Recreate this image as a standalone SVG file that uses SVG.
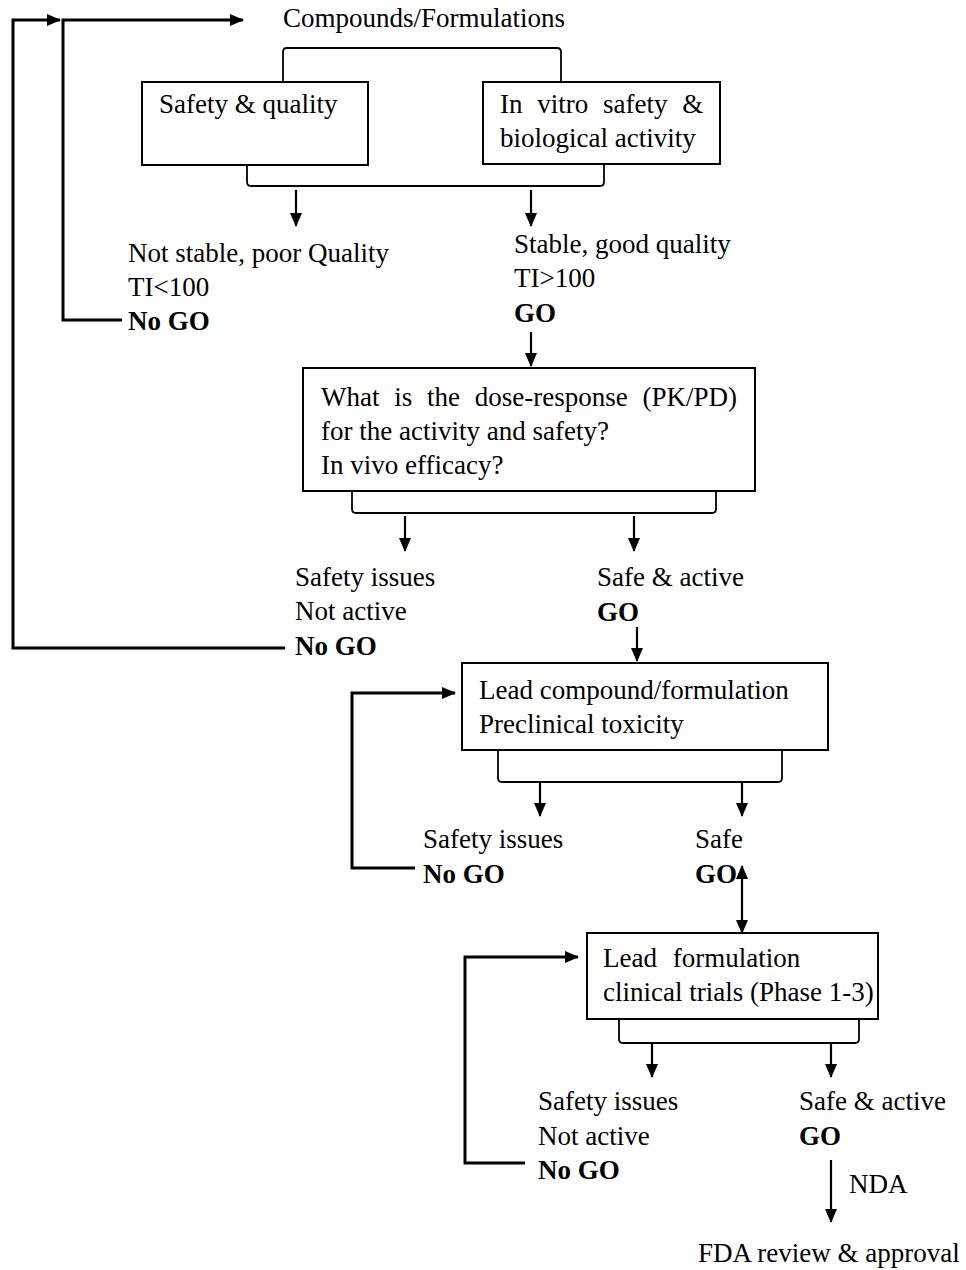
<svg xmlns="http://www.w3.org/2000/svg" width="966" height="1270" viewBox="0 0 966 1270">
<defs>
<marker id="ah" viewBox="0 0 14 12" refX="13" refY="6" markerWidth="14" markerHeight="12" markerUnits="userSpaceOnUse" orient="auto-start-reverse">
<path d="M0,0 L14,6 L0,12 z" fill="#000"/>
</marker>
<style>
text{font-family:"Liberation Serif","Times New Roman",serif;font-size:27px;fill:#000}
.b{font-weight:bold}
.box{fill:#fff;stroke:#000;stroke-width:2}
.br{fill:none;stroke:#000;stroke-width:1.8}
.ar{fill:none;stroke:#000;stroke-width:2.2;marker-end:url(#ah)}
.fb{fill:none;stroke:#000;stroke-width:3}
</style>
</defs>
<rect width="966" height="1270" fill="#fff"/>
<g id="connectors">
<path class="fb" d="M285,648 H13 V20 H60" marker-end="url(#ah)"/>
<path class="fb" d="M122,320 H63 V20 H243" marker-end="url(#ah)"/>
<path class="br" d="M283,82 V52 Q283,48 287,48 H557 Q561,48 561,52 V82"/>
<path class="br" d="M247,165 V182 Q247,186 251,186 H600 Q604,186 604,182 V165"/>
<path class="ar" d="M296,190 V226"/>
<path class="ar" d="M531,190 V226"/>
<path class="ar" d="M531,332 V366"/>
<path class="br" d="M352,491 V509 Q352,513 356,513 H712 Q716,513 716,509 V491"/>
<path class="ar" d="M405,516 V551"/>
<path class="ar" d="M634,516 V551"/>
<path class="ar" d="M637,627 V661"/>
<path class="fb" d="M415,868 H352 V693 H455" marker-end="url(#ah)"/>
<path class="br" d="M498,750 V778 Q498,782 502,782 H778 Q782,782 782,778 V750"/>
<path class="ar" d="M540,783 V816"/>
<path class="ar" d="M742,783 V816"/>
<path class="ar" d="M742,866 V933" marker-start="url(#ah)"/>
<path class="fb" d="M525,1163 H465 V957 H578" marker-end="url(#ah)"/>
<path class="br" d="M619,1019 V1039 Q619,1043 623,1043 H855 Q859,1043 859,1039 V1019"/>
<path class="ar" d="M652,1044 V1077"/>
<path class="ar" d="M831,1044 V1077"/>
<path class="ar" d="M831,1160 V1222"/>
</g>
<g id="n-compounds"><text x="283" y="27">Compounds/Formulations</text></g>
<g id="n-safety-quality"><rect class="box" x="142" y="82" width="226" height="83"/><text x="159" y="113">Safety &amp; quality</text></g>
<g id="n-invitro"><rect class="box" x="483" y="82" width="237" height="82"/><text x="500" y="113" word-spacing="8">In vitro safety &amp;</text><text x="500" y="147">biological activity</text></g>
<g id="n-nogo1"><text x="128" y="262">Not stable, poor Quality</text><text x="128" y="296">TI&lt;100</text><text class="b" x="128" y="330">No GO</text></g>
<g id="n-go1"><text x="514" y="253">Stable, good quality</text><text x="514" y="287">TI&gt;100</text><text class="b" x="514" y="322">GO</text></g>
<g id="n-dose"><rect class="box" x="303" y="368" width="452" height="123"/><text x="321" y="406" word-spacing="8">What is the dose-response (PK/PD)</text><text x="321" y="440">for the activity and safety?</text><text x="321" y="474">In vivo efficacy?</text></g>
<g id="n-nogo2"><text x="295" y="586">Safety issues</text><text x="295" y="620">Not active</text><text class="b" x="295" y="655">No GO</text></g>
<g id="n-go2"><text x="597" y="586">Safe &amp; active</text><text class="b" x="597" y="621">GO</text></g>
<g id="n-lead"><rect class="box" x="462" y="663" width="366" height="87"/><text x="479" y="699">Lead compound/formulation</text><text x="479" y="733">Preclinical toxicity</text></g>
<g id="n-nogo3"><text x="423" y="848">Safety issues</text><text class="b" x="423" y="883">No GO</text></g>
<g id="n-go3"><text x="695" y="848">Safe</text><text class="b" x="695" y="883">GO</text></g>
<g id="n-clinical"><rect class="box" x="587" y="933" width="291" height="86"/><text x="603" y="967" word-spacing="9">Lead formulation</text><text x="603" y="1001">clinical trials (Phase 1-3)</text></g>
<g id="n-nogo4"><text x="538" y="1110">Safety issues</text><text x="538" y="1145">Not active</text><text class="b" x="538" y="1179">No GO</text></g>
<g id="n-go4"><text x="799" y="1110">Safe &amp; active</text><text class="b" x="799" y="1145">GO</text></g>
<g id="n-nda"><text x="849" y="1193">NDA</text></g>
<g id="n-fda"><text x="698" y="1262">FDA review &amp; approval</text></g>
</svg>
